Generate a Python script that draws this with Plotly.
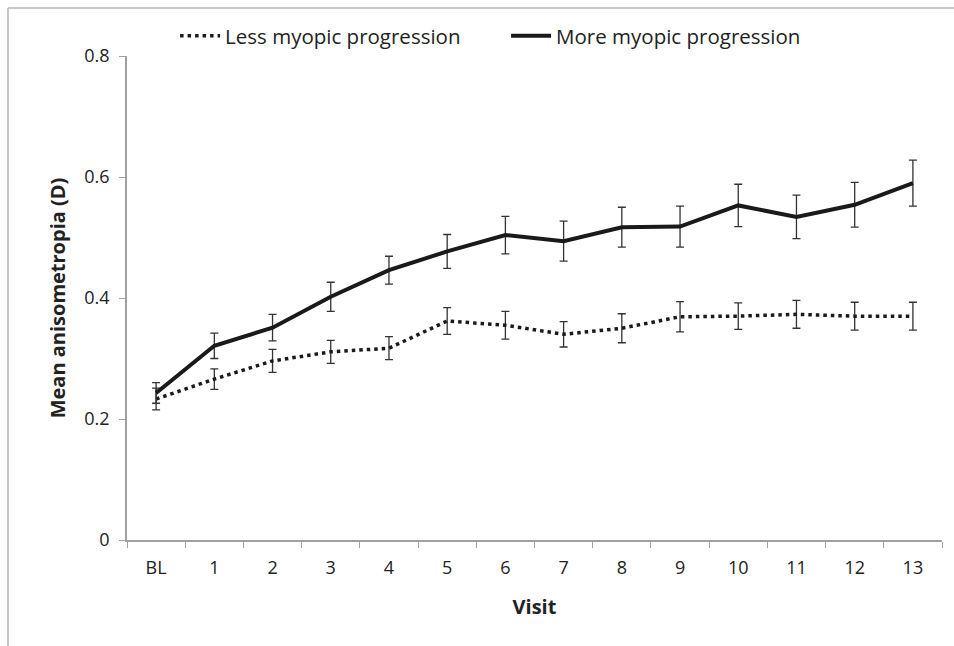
import plotly.graph_objects as go

visits = ["BL", "1", "2", "3", "4", "5", "6", "7", "8", "9", "10", "11", "12", "13"]
less_mean = [0.233, 0.266, 0.296, 0.311, 0.317, 0.362, 0.355, 0.340, 0.350, 0.369, 0.370, 0.373, 0.370, 0.370]
less_err = [0.018, 0.017, 0.019, 0.019, 0.019, 0.022, 0.023, 0.021, 0.024, 0.025, 0.022, 0.023, 0.023, 0.023]
more_mean = [0.243, 0.321, 0.351, 0.402, 0.446, 0.477, 0.504, 0.494, 0.517, 0.518, 0.553, 0.534, 0.554, 0.590]
more_err = [0.017, 0.021, 0.022, 0.024, 0.023, 0.028, 0.031, 0.033, 0.033, 0.034, 0.035, 0.036, 0.037, 0.038]
y_ticks = [0, 0.2, 0.4, 0.6, 0.8]
y_tick_labels = ["0", "0.2", "0.4", "0.6", "0.8"]

FONT = "Open Sans"
TXT = "#222222"

W, H = 954, 646
L, T, R, B = 127, 56, 12, 106
PW = W - L - R
PH = H - T - B

fig = go.Figure()
fig.add_trace(go.Scatter(
    x=visits, y=less_mean, mode="lines", name="Less myopic progression",
    line=dict(color="#1a1a1a", width=3.5, dash="3.5px,4px"),
    error_y=dict(type="data", array=less_err, visible=True, color="#333333", thickness=1.3, width=4),
))
fig.add_trace(go.Scatter(
    x=visits, y=more_mean, mode="lines", name="More myopic progression",
    line=dict(color="#1a1a1a", width=4),
    error_y=dict(type="data", array=more_err, visible=True, color="#333333", thickness=1.3, width=4),
))

fig.update_layout(
    width=W, height=H, autosize=False,
    margin=dict(l=L, r=R, t=T, b=B, autoexpand=False),
    paper_bgcolor="white", plot_bgcolor="white",
    font=dict(family=FONT, color=TXT),
    showlegend=True,
    legend=dict(orientation="h", x=0.059, xanchor="left", y=1.0, yanchor="bottom",
                font=dict(size=20.5, family=FONT, color=TXT), itemwidth=40,
                entrywidth=276, bgcolor="rgba(0,0,0,0)"),
    xaxis=dict(
        type="category", range=[-0.5, 13.5], tickson="boundaries",
        showline=True, linecolor="#a0a0a0", linewidth=1.5,
        ticks="outside", ticklen=6, tickcolor="#a0a0a0",
        ticklabelstandoff=11,
        showgrid=False, zeroline=False,
        tickfont=dict(size=18, family=FONT, color=TXT),
        title=dict(text="<b>Visit</b>", font=dict(size=20, family=FONT, color=TXT), standoff=22),
    ),
    yaxis=dict(
        range=[0, 0.8], tickvals=y_ticks, ticktext=y_tick_labels,
        showline=True, linecolor="#a0a0a0", linewidth=1.5,
        ticks="outside", ticklen=6, tickcolor="#a0a0a0",
        ticklabelstandoff=6,
        showgrid=False, zeroline=False,
        tickfont=dict(size=18, family=FONT, color=TXT),
        title=dict(text="<b>Mean anisometropia (D)</b>", font=dict(size=20, family=FONT, color=TXT), standoff=13),
    ),
    shapes=[
        dict(type="line", xref="paper", yref="paper",
             x0=(8 - L) / PW, x1=(W + 20 - L) / PW, y0=1 + (T - 8) / PH, y1=1 + (T - 8) / PH,
             line=dict(color="#b5b5b5", width=1.5), layer="below"),
        dict(type="line", xref="paper", yref="paper",
             x0=(8 - L) / PW, x1=(8 - L) / PW, y0=1 + (T - 8) / PH, y1=-(B + 20) / PH,
             line=dict(color="#b5b5b5", width=1.5), layer="below"),
    ],
)

fig.write_html("out.html",
               config={"displayModeBar": False},
               post_script="document.body.style.margin='0';document.body.style.overflow='hidden';"
                           "document.documentElement.style.overflow='hidden';")
